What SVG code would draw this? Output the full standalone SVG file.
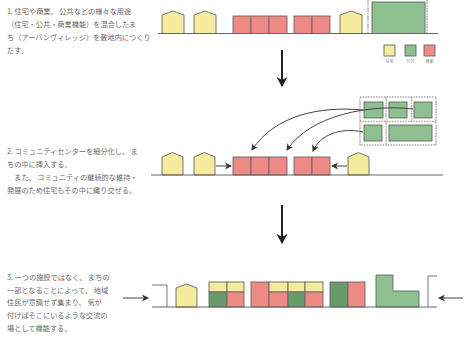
<svg xmlns="http://www.w3.org/2000/svg" width="464" height="339" viewBox="0 0 464 339">
<style>
.t{font-family:"Noto Sans CJK JP","Noto Sans",sans-serif;font-size:7.2px;fill:#6a6a6a}
.lg{font-family:"Noto Sans CJK JP",sans-serif;font-size:4px;fill:#777}
.y{fill:#f4ec9c;stroke:#666;stroke-width:0.9}
.r{fill:#ee8a86;stroke:#666;stroke-width:0.9}
.g{fill:#8dbf8f;stroke:#666;stroke-width:0.9}
.dg{fill:#689a6c;stroke:#666;stroke-width:0.9}
.base{stroke:#666;stroke-width:1.2;fill:none}
.dot{stroke:#999;stroke-width:1.6;stroke-dasharray:0.8 0.8;fill:none}
.ln{stroke:#444;stroke-width:1;fill:none}
.big{stroke:#222;stroke-width:2;fill:none}
.br{stroke:#777;stroke-width:1;fill:none}
</style>
<defs>
<marker id="ah" markerWidth="8" markerHeight="8" refX="6" refY="4" orient="auto" markerUnits="userSpaceOnUse">
<path d="M0,0.5 L7,4 L0,7.5 L2,4 Z" fill="#333"/>
</marker>
<marker id="ahb" markerWidth="12" markerHeight="12" refX="9" refY="6" orient="auto" markerUnits="userSpaceOnUse">
<path d="M0,0.5 L10,6 L0,11.5 L3,6 Z" fill="#222"/>
</marker>
</defs>

<g id="text1">
<text class="t" x="7" y="14">1. 住宅や商業、 公共などの様々な用途</text>
<text class="t" x="7" y="27">（住宅・公共・商業機能）を混合したま</text>
<text class="t" x="7" y="40">ち（アーバンヴィレッジ）を敷地内につくり</text>
<text class="t" x="7" y="53">だす。</text>
</g>

<g id="row1">
<path class="y" d="M162,33.5 V15 L173,11 L184,15 V33.5 Z"/>
<path class="y" d="M194,33.5 V15 L205,11 L216,15 V33.5 Z"/>
<rect class="r" x="233" y="16" width="18" height="17.5"/>
<rect class="r" x="251" y="16" width="18" height="17.5"/>
<rect class="r" x="269" y="16" width="18" height="17.5"/>
<rect class="r" x="294" y="16" width="18" height="17.5"/>
<rect class="r" x="312" y="16" width="18" height="17.5"/>
<path class="y" d="M340,33.5 V15 L351,11 L362,15 V33.5 Z"/>
<line class="dot" x1="368" y1="0" x2="368" y2="33"/>
<line class="dot" x1="427" y1="0" x2="427" y2="33"/>
<rect class="g" x="372" y="2" width="53" height="31.5"/>
<line class="base" x1="158" y1="33.5" x2="438" y2="33.5"/>
</g>

<g id="legend">
<rect class="y" x="384" y="45" width="11" height="11"/>
<rect class="g" x="405" y="45" width="11" height="11"/>
<rect class="r" x="424" y="45" width="11" height="11"/>
<text class="lg" x="389.5" y="63" text-anchor="middle">住宅</text>
<text class="lg" x="410.5" y="63" text-anchor="middle">公共</text>
<text class="lg" x="429.5" y="63" text-anchor="middle">商業</text>
</g>

<g id="text2">
<text class="t" x="7" y="154">2. コミュニティセンターを細分化し、 ま</text>
<text class="t" x="7" y="167">ちの中に挿入する。</text>
<text class="t" x="7" y="180">　また、 コミュニティの継続的な維持・</text>
<text class="t" x="7" y="193">発展のため住宅もその中に織り交ぜる。</text>
</g>

<g id="panel">
<rect class="dot" x="360" y="97" width="76" height="48" stroke-width="1.2"/>
<line class="dot" x1="360" y1="121.5" x2="436" y2="121.5" stroke-width="1.2"/>
<line class="dot" x1="386" y1="97" x2="386" y2="145" stroke-width="1.2"/>
<line class="dot" x1="411.5" y1="97" x2="411.5" y2="121.5" stroke-width="1.2"/>
<rect class="g" x="364" y="102" width="19" height="16"/>
<rect class="g" x="389" y="102" width="18" height="16"/>
<rect class="g" x="414" y="102" width="18" height="16"/>
<rect class="g" x="364" y="125" width="18" height="16"/>
<rect class="g" x="389" y="125" width="43" height="16"/>
</g>

<g id="row2">
<path class="y" d="M162,175 V157 L172.5,152.5 L183,157 V175 Z"/>
<path class="y" d="M194,175 V157 L204.5,152.5 L215,157 V175 Z"/>
<rect class="r" x="233" y="157" width="18" height="18"/>
<rect class="r" x="251" y="157" width="18" height="18"/>
<rect class="r" x="269" y="157" width="18" height="18"/>
<rect class="r" x="294" y="157" width="18" height="18"/>
<rect class="r" x="312" y="157" width="18" height="18"/>
<path class="y" d="M348,175 V157 L358.5,152.5 L369,157 V175 Z"/>
<line class="base" x1="151" y1="175" x2="443" y2="175"/>
</g>

<g id="text3">
<text class="t" x="7" y="280">3. 一つの施設ではなく、 まちの</text>
<text class="t" x="7" y="293">一部となることによって、 地域</text>
<text class="t" x="7" y="305">住民が意識せず集まり、 気が</text>
<text class="t" x="7" y="318">付けばそこにいるような交流の</text>
<text class="t" x="7" y="331">場として機能する。</text>
</g>

<g id="row3">
<path class="br" d="M152,285 H167 V307"/>
<path class="br" d="M437,276 H428 V307"/>
<path class="y" d="M176,307 V288 L186.5,284 L197,288 V307 Z"/>
<rect class="y" x="209" y="282" width="18" height="10"/>
<rect class="y" x="227" y="282" width="17" height="10"/>
<rect class="dg" x="209" y="292" width="18" height="15"/>
<rect class="r" x="227" y="292" width="17" height="15"/>
<rect class="r" x="251" y="282" width="18" height="25"/>
<rect class="y" x="269" y="282" width="19" height="10"/>
<rect class="r" x="269" y="292" width="19" height="15"/>
<rect class="y" x="288" y="282" width="17" height="10"/>
<rect class="dg" x="288" y="292" width="17" height="15"/>
<rect class="y" x="305" y="282" width="18" height="10"/>
<rect class="r" x="305" y="292" width="18" height="15"/>
<rect class="dg" x="330" y="282" width="18" height="25"/>
<rect class="r" x="348" y="282" width="17" height="25"/>
<path class="g" d="M376,307 V275 H393 V291 H419 V307 Z"/>
<line class="base" x1="152" y1="307" x2="437" y2="307"/>
</g>

<g id="connectors">
<line class="big" x1="282" y1="50" x2="282" y2="86" marker-end="url(#ahb)"/>
<line class="big" x1="282" y1="205" x2="282" y2="243" marker-end="url(#ahb)"/>
<path class="ln" d="M363,110 C320,106 275,115 252,150" marker-end="url(#ah)"/>
<path class="ln" d="M413,109 C370,104 310,115 287,150" marker-end="url(#ah)"/>
<path class="ln" d="M363,132 C340,127 320,135 313,151" marker-end="url(#ah)"/>
<line class="ln" x1="216" y1="166" x2="231" y2="166" marker-end="url(#ah)"/>
<line class="ln" x1="347" y1="166" x2="332" y2="166" marker-end="url(#ah)"/>
<line class="ln" x1="123" y1="298" x2="148" y2="298" marker-end="url(#ah)"/>
<line class="ln" x1="463" y1="298" x2="439" y2="298" marker-end="url(#ah)"/>
</g>
</svg>
